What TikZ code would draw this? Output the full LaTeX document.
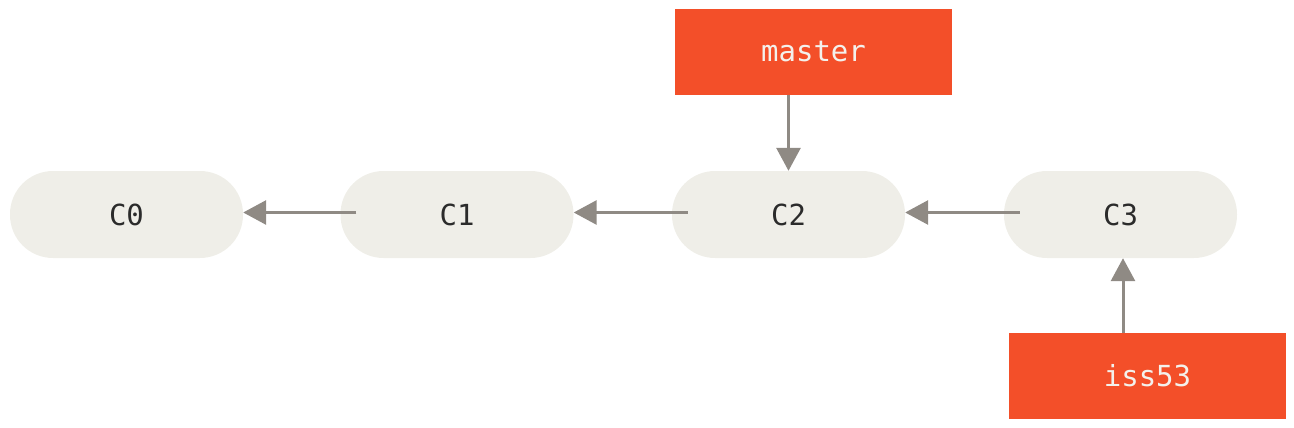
\documentclass[tikz,border=0pt]{standalone}
\usepackage{fontspec}
\setmonofont{DejaVu Sans Mono}
\usetikzlibrary{arrows.meta}
\definecolor{commitfill}{HTML}{EFEEE8}
\definecolor{branchfill}{HTML}{F34F29}
\definecolor{arrowgray}{HTML}{8F8A84}
\definecolor{commitfont}{HTML}{2B2B2B}
\definecolor{branchfont}{HTML}{F3F1EC}

\begin{document}
\begin{tikzpicture}[x=1pt,y=-1pt]
		% Define styles
		\tikzstyle{commit}=[fill=commitfill,rounded corners=43pt,minimum width=233pt,minimum height=87pt,inner sep=0pt,text=commitfont,font=\ttfamily\fontsize{29}{32}\selectfont]
		\tikzstyle{branch}=[fill=branchfill,minimum width=277pt,minimum height=86pt,inner sep=0pt,text=branchfont,font=\ttfamily\fontsize{29}{32}\selectfont]
		\tikzstyle{pointer}=[draw=arrowgray,line width=3pt,-{Triangle[length=23pt,width=24pt]},arrowgray]
		
		\useasboundingbox (0,0) rectangle (1294,428);
		
		% Commits
		\node[commit] (c0) at (126.5,214.5) {C0};
		\node[commit] (c1) at (457,214.5) {C1};
		\node[commit] (c2) at (788.5,214.5) {C2};
		\node[commit] (c3) at (1120.5,214.5) {C3};
		
		% Branches
		\node[branch] (master) at (813.5,52) {master};
		\node[branch] (iss53) at (1147.5,376) {iss53};
		
		% Parent links
		\draw[pointer] ([xshift=16pt,yshift=2pt]c1.west) -- ([yshift=2pt]c0.east);
		\draw[pointer] ([xshift=16pt,yshift=2pt]c2.west) -- ([yshift=2pt]c1.east);
		\draw[pointer] ([xshift=16pt,yshift=2pt]c3.west) -- ([yshift=2pt]c2.east);
		
		% Branch pointers
		\draw[pointer] (master.south -| c2) -- (c2.north);
		\draw[pointer] ([xshift=2.5pt]iss53.north -| c3) -- ([xshift=2.5pt]c3.south);
		
	\end{tikzpicture}
\end{document}
